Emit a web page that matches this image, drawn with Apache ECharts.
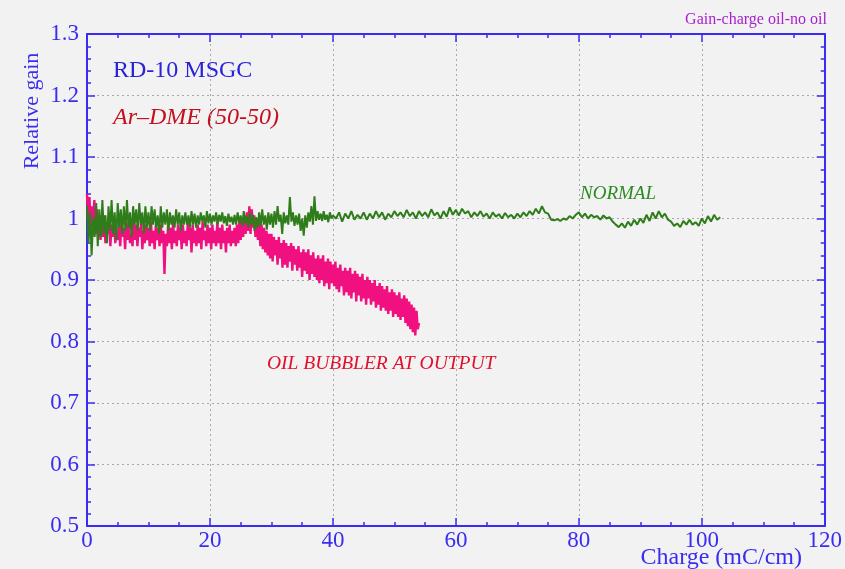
<!DOCTYPE html>
<html>
<head>
<meta charset="utf-8">
<script src="https://cdn.jsdelivr.net/npm/echarts@6/dist/echarts.min.js"></script>
<style>
    html, body { margin: 0; padding: 0; background: #f2f2f2; }
    #chart { width: 845px; height: 569px; }
</style>
</head>
<body>
<div id="chart"></div>
<script>
// x sampling of the traces (mC/cm)
const normalEarlyStart = 0
const normalEarlyStep = 0.25
const normalLateStart = 40
const normalLateStep = 0.5
const oilStart = 0
const oilStep = 0.2

// relative gain, NORMAL run (green), 0 .. 39.75
const normalEarly = [
    1.02, 0.96, 1.01, 0.94, 1.0, 0.97, 1.025, 0.955,
    1.015, 0.97, 1.03, 0.975, 1.005, 0.96, 1.02, 0.98,
    1.03, 0.975, 1.01, 0.965, 1.025, 0.985, 1.015, 0.975,
    1.02, 0.98, 1.03, 0.985, 1.01, 0.97, 1.02, 0.99,
    1.015, 0.98, 1.025, 0.99, 1.01, 0.975, 1.02, 0.985,
    1.01, 0.98, 1.02, 0.99, 1.015, 0.985, 1.005, 0.975,
    1.02, 0.985, 1.01, 0.99, 1.015, 0.98, 1.01, 0.99,
    1.005, 0.985, 1.015, 0.99, 1.01, 0.98, 1.005, 0.99,
    1.01, 0.99, 1.005, 0.985, 1.012, 0.99, 1.008, 0.985,
    1.005, 0.99, 1.01, 0.995, 1.005, 0.985, 1.012, 0.992,
    1.008, 0.99, 1.005, 0.995, 1.01, 0.99, 1.006, 0.995,
    1.01, 0.992, 1.004, 0.988, 1.008, 0.994, 1.003, 0.99,
    1.006, 0.99, 1.01, 0.993, 1.005, 0.988, 1.012, 0.992,
    1.004, 0.985, 1.01, 0.99, 1.006, 0.98, 1.002, 0.985,
    1.01, 0.988, 1.015, 0.99, 1.005, 0.982, 1.01, 0.99,
    1.008, 0.985, 1.012, 0.99, 1.02, 0.995, 1.006, 0.975,
    1.01, 0.992, 1.005, 0.99, 1.035, 0.995, 1.01, 0.988,
    1.005, 0.99, 1.008, 0.98, 1.0, 0.972, 1.005, 0.985,
    1.01, 0.995, 1.02, 0.99, 1.036, 0.996, 1.012, 0.998,
    1.008, 0.996, 1.012, 0.998, 1.006, 0.994, 1.01, 1.0
]

// relative gain, NORMAL run (green), 40 .. 103
const normalLate = [
    1.005, 1.0, 1.01, 0.995, 1.008, 1.0, 1.012, 0.998, 1.006, 1.0,
    1.01, 0.998, 1.008, 1.0, 1.012, 1.002, 1.01, 0.998, 1.008, 1.002,
    1.012, 1.004, 1.01, 1.002, 1.014, 1.004, 1.01, 1.0, 1.012, 1.004,
    1.01, 1.002, 1.015, 1.005, 1.01, 1.0, 1.012, 1.003, 1.018, 1.006,
    1.014, 1.005, 1.016, 1.008, 1.012, 1.002, 1.01, 1.004, 1.012, 1.003,
    1.008, 1.0, 1.01, 1.003, 1.007, 1.0, 1.009, 1.002, 1.006, 1.0,
    1.008, 1.002, 1.01, 1.004, 1.012, 1.006, 1.016, 1.008, 1.02, 1.01,
    1.008, 0.998, 0.997, 0.999, 0.996, 1.0, 0.998, 1.004, 1.0, 1.006,
    1.01, 1.002, 1.008, 1.0, 1.006, 1.002, 1.004, 0.998, 1.005, 1.0,
    1.002, 0.995, 0.99, 0.986, 0.992, 0.985, 0.995, 0.988, 0.998, 0.99,
    1.0, 0.993, 1.006, 0.996, 1.01, 1.0, 1.012, 1.002, 1.008, 0.998,
    0.995, 0.988, 0.992, 0.986, 0.996, 0.99, 0.998, 0.99, 0.994, 0.988,
    1.0, 0.992, 1.004, 0.995, 1.006, 0.998, 1.002
]

// relative gain, oil bubbler at output (pink), 0 .. 54
const oilGain = [
    1.04, 0.99, 1.035, 0.985, 1.02, 1.0, 1.03, 0.975, 1.015, 0.97,
    1.0, 0.965, 0.99, 0.97, 1.005, 0.96, 0.985, 0.975, 0.995, 0.955,
    0.99, 0.97, 1.0, 0.96, 0.98, 0.965, 0.995, 0.955, 0.99, 0.97,
    0.985, 0.95, 0.995, 0.965, 0.99, 0.96, 0.975, 0.955, 1.0, 0.965,
    0.99, 0.955, 0.985, 0.97, 0.995, 0.95, 0.98, 0.96, 0.99, 0.965,
    0.985, 0.955, 0.995, 0.96, 0.98, 0.95, 0.99, 0.965, 0.985, 0.955,
    0.99, 0.96, 0.98, 0.91, 0.975, 0.955, 0.99, 0.96, 0.985, 0.95,
    0.995, 0.96, 0.98, 0.955, 0.99, 0.965, 0.985, 0.95, 0.99, 0.96,
    0.98, 0.955, 0.995, 0.965, 0.985, 0.945, 0.99, 0.96, 0.98, 0.955,
    0.99, 0.96, 0.985, 0.95, 0.995, 0.965, 0.98, 0.955, 0.99, 0.96,
    0.985, 0.95, 0.99, 0.96, 0.98, 0.955, 0.995, 0.96, 0.985, 0.95,
    0.99, 0.96, 0.98, 0.945, 0.985, 0.96, 0.99, 0.955, 0.98, 0.96,
    0.985, 0.955, 0.99, 0.96, 1.0, 0.965, 0.995, 0.97, 1.005, 0.975,
    1.01, 0.98, 1.02, 0.975, 1.015, 0.985, 1.005, 0.97, 1.0, 0.965,
    0.995, 0.955, 0.99, 0.95, 0.985, 0.945, 0.98, 0.94, 0.975, 0.935,
    0.975, 0.93, 0.97, 0.94, 0.965, 0.925, 0.97, 0.935, 0.96, 0.92,
    0.965, 0.925, 0.96, 0.92, 0.955, 0.93, 0.96, 0.915, 0.955, 0.925,
    0.95, 0.915, 0.955, 0.92, 0.945, 0.905, 0.95, 0.915, 0.945, 0.91,
    0.95, 0.9, 0.94, 0.91, 0.945, 0.905, 0.935, 0.9, 0.94, 0.895,
    0.935, 0.9, 0.94, 0.89, 0.93, 0.895, 0.935, 0.885, 0.93, 0.895,
    0.925, 0.89, 0.93, 0.885, 0.92, 0.88, 0.925, 0.89, 0.915, 0.875,
    0.92, 0.88, 0.915, 0.875, 0.92, 0.87, 0.91, 0.88, 0.915, 0.865,
    0.91, 0.875, 0.905, 0.865, 0.91, 0.87, 0.9, 0.86, 0.905, 0.87,
    0.9, 0.86, 0.895, 0.865, 0.9, 0.855, 0.89, 0.86, 0.895, 0.85,
    0.89, 0.855, 0.885, 0.85, 0.89, 0.845, 0.88, 0.85, 0.885, 0.84,
    0.88, 0.845, 0.875, 0.84, 0.88, 0.835, 0.87, 0.84, 0.875, 0.83,
    0.87, 0.825, 0.865, 0.82, 0.86, 0.815, 0.855, 0.81, 0.85, 0.82,
    0.83
]

const xTicks = [0, 20, 40, 60, 80, 100, 120]
const yTicks = [0.5, 0.6, 0.7, 0.8, 0.9, 1, 1.1, 1.2, 1.3]

const toPairs = (start, step, values) => values.map((v, i) => [start + i * step, v])

const axisBlue = '#3a2cf0'
const serif = '"Liberation Serif", "DejaVu Serif", serif'
const gridLine = { show: true, lineStyle: { color: '#a8a8a8', type: [2, 3], width: 1 } }

const baseX = {
    type: 'value',
    min: xTicks[0],
    max: xTicks[xTicks.length - 1],
    interval: 20,
    axisLine: { show: true, onZero: false, lineStyle: { color: axisBlue, width: 2 } },
    axisTick: { show: true, inside: true, length: 8, lineStyle: { color: axisBlue, width: 1.5 } },
    minorTick: { show: true, splitNumber: 4, length: 4, lineStyle: { color: axisBlue, width: 1.5 } }
}
const baseY = {
    type: 'value',
    min: yTicks[0],
    max: yTicks[yTicks.length - 1],
    interval: 0.1,
    axisLine: { show: true, onZero: false, lineStyle: { color: axisBlue, width: 2 } },
    axisTick: { show: true, inside: true, length: 8, lineStyle: { color: axisBlue, width: 1.5 } },
    minorTick: { show: true, splitNumber: 5, length: 4, lineStyle: { color: axisBlue, width: 1.5 } }
}

const chart = echarts.init(document.getElementById('chart'))
chart.setOption({
    animation: false,
    backgroundColor: '#f2f2f2',
    grid: { left: 87, top: 34, right: 18, bottom: 43 },
    xAxis: [
        {
            ...baseX,
            position: 'bottom',
            axisLabel: { color: axisBlue, fontFamily: serif, fontSize: 23, margin: 3 },
            splitLine: gridLine
        },
        { ...baseX, position: 'top', axisLabel: { show: false }, splitLine: { show: false } }
    ],
    yAxis: [
        {
            ...baseY,
            position: 'left',
            axisLabel: { color: axisBlue, fontFamily: serif, fontSize: 23, margin: 8 },
            splitLine: gridLine
        },
        { ...baseY, position: 'right', axisLabel: { show: false }, splitLine: { show: false } }
    ],
    series: [
        {
            name: 'OIL BUBBLER AT OUTPUT',
            type: 'line',
            data: toPairs(oilStart, oilStep, oilGain),
            showSymbol: false,
            sampling: null,
            lineStyle: { color: '#f0107f', width: 2.4 },
            z: 2
        },
        {
            name: 'NORMAL',
            type: 'line',
            data: toPairs(normalEarlyStart, normalEarlyStep, normalEarly)
                .concat(toPairs(normalLateStart, normalLateStep, normalLate)),
            showSymbol: false,
            sampling: null,
            lineStyle: { color: '#2e7d1a', width: 2 },
            z: 3
        }
    ],
    graphic: [
        {
            type: 'text', x: 827, y: 20,
            style: { text: 'Gain-charge oil-no oil', fill: '#a81fcf', font: '16px ' + serif, textAlign: 'right', textVerticalAlign: 'middle' }
        },
        {
            type: 'text', x: 32, y: 111, rotation: Math.PI / 2,
            style: { text: 'Relative gain', fill: axisBlue, font: '22px ' + serif, textAlign: 'center', textVerticalAlign: 'middle' }
        },
        {
            type: 'text', x: 802, y: 558,
            style: { text: 'Charge (mC/cm)', fill: axisBlue, font: '24px ' + serif, textAlign: 'right', textVerticalAlign: 'middle' }
        },
        {
            type: 'text', x: 113, y: 71,
            style: { text: 'RD-10 MSGC', fill: '#2a22d8', font: '24px ' + serif, textAlign: 'left', textVerticalAlign: 'middle' }
        },
        {
            type: 'text', x: 113, y: 118,
            style: { text: 'Ar\u2013DME (50-50)', fill: '#c4101c', font: 'italic 24px ' + serif, textAlign: 'left', textVerticalAlign: 'middle' }
        },
        {
            type: 'text', x: 580, y: 194,
            style: { text: 'NORMAL', fill: '#2e8a22', font: 'italic 19px ' + serif, textAlign: 'left', textVerticalAlign: 'middle' }
        },
        {
            type: 'text', x: 267, y: 364,
            style: { text: 'OIL BUBBLER AT OUTPUT', fill: '#e0102c', font: 'italic 19.5px ' + serif, textAlign: 'left', textVerticalAlign: 'middle' }
        }
    ]
})
</script>
</body>
</html>
